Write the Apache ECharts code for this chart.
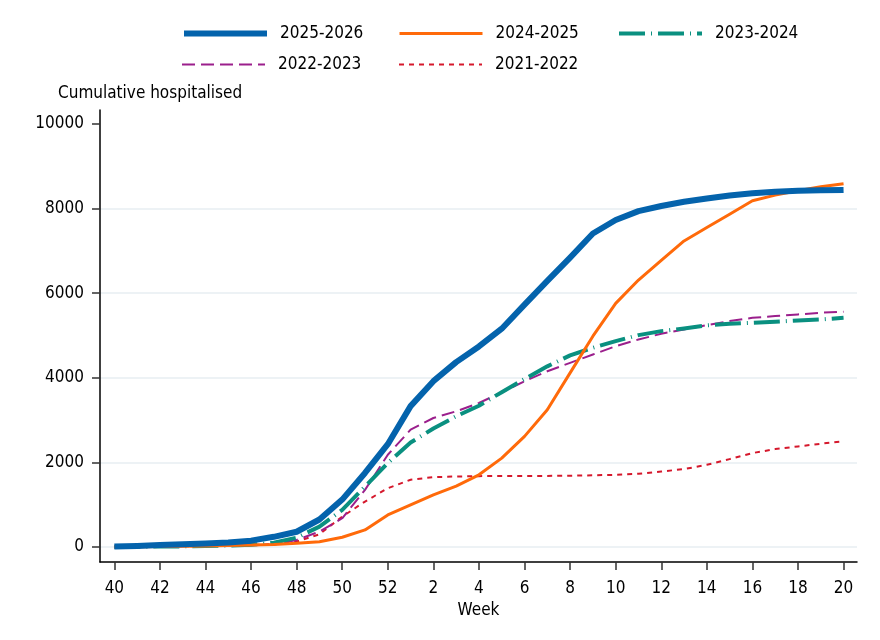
<!DOCTYPE html>
<html>
<head>
<meta charset="utf-8">
<script src="https://cdn.jsdelivr.net/npm/echarts@6/dist/echarts.min.js"></script>
<style>html,body{margin:0;padding:0;background:#fff}#c{width:880px;height:640px}</style>
</head>
<body>
<div id="c"></div>
<script>
var weeks = [40,41,42,43,44,45,46,47,48,49,50,51,52,1,2,3,4,5,6,7,8,9,10,11,12,13,14,15,16,17,18,19,20];
var xTickIdx = [0,2,4,6,8,10,12,14,16,18,20,22,24,26,28,30,32];
var yTicks = [0,2000,4000,6000,8000,10000];

var s2025 = [10,25,45,65,85,105,150,240,360,650,1120,1750,2430,3330,3920,4370,4740,5160,5730,6290,6840,7410,7730,7940,8060,8160,8240,8310,8360,8400,8420,8430,8440];
var s2024 = [0,5,10,15,25,35,45,60,87,126,230,403,758,995,1232,1440,1706,2101,2615,3246,4115,4983,5758,6311,6777,7235,7551,7867,8183,8318,8420,8515,8586];
var s2023 = [0,5,10,15,25,35,55,100,220,482,877,1430,1983,2470,2800,3090,3340,3660,3970,4270,4530,4710,4866,5008,5103,5166,5237,5276,5300,5324,5355,5379,5418];
var s2022 = [0,5,10,15,20,30,40,55,166,363,679,1350,2180,2773,3049,3207,3404,3657,3918,4155,4353,4550,4747,4905,5040,5142,5245,5340,5418,5458,5498,5537,5561];
var s2021 = [0,5,10,15,20,30,45,70,130,300,718,1074,1390,1588,1651,1667,1675,1680,1680,1680,1685,1695,1706,1730,1785,1840,1943,2077,2220,2314,2377,2441,2496];

var FONT = "'DejaVu Sans Condensed', 'Liberation Sans', sans-serif";

function pairs(arr){ return arr.map(function(v,i){ return [i, v]; }); }

var seriesDefs = [
  {name:'2025-2026', data:s2025, color:'#0463ac', width:6, type:'solid'},
  {name:'2024-2025', data:s2024, color:'#ff6a0a', width:3, type:'solid'},
  {name:'2023-2024', data:s2023, color:'#0a9080', width:4, type:[26,6,1,6]},
  {name:'2022-2023', data:s2022, color:'#9b1f8c', width:2, type:[13,6]},
  {name:'2021-2022', data:s2021, color:'#d5182c', width:2, type:[5,5]}
];

var legendPos = [
  {left:181, top:25}, {left:398, top:25}, {left:617, top:25},
  {left:181, top:56}, {left:398, top:56}
];

var chart = echarts.init(document.getElementById('c'), null, {renderer:'canvas'});
chart.setOption({
  animation:false,
  backgroundColor:'#fff',
  textStyle:{fontFamily:FONT},
  title:{
    text:'Cumulative hospitalised', left:58, top:85, padding:0,
    textStyle:{fontFamily:FONT, fontSize:17, fontWeight:'normal', color:'#000'}
  },
  legend: seriesDefs.map(function(s,i){
    return {
      data:[s.name], left:legendPos[i].left, top:legendPos[i].top, padding:0,
      itemWidth:83, itemHeight:14, selectedMode:false,
      itemStyle:{opacity:0},
      lineStyle:{width:s.width, type:s.type, color:s.color, cap:'butt'},
      textStyle:{fontFamily:FONT, fontSize:17, color:'#000', padding:[0,0,0,8]}
    };
  }),
  grid:{left:100, right:23, top:110, bottom:78, containLabel:false},
  xAxis:{
    type:'value', min:-0.63, max:32.59,
    name:'Week', nameLocation:'middle', nameGap:30,
    nameTextStyle:{fontFamily:FONT, fontSize:17, color:'#000'},
    axisLine:{show:true, onZero:false, lineStyle:{color:'#000', width:1.5}},
    axisTick:{show:true, length:8, customValues:xTickIdx, lineStyle:{color:'#333', width:1.5}},
    axisLabel:{customValues:xTickIdx, margin:18, fontFamily:FONT, fontSize:17, color:'#000',
      formatter:function(v){ return String(weeks[Math.round(v)]); }},
    splitLine:{show:false}
  },
  yAxis:{
    type:'value', min:-355, max:10330,
    axisLine:{show:true, onZero:false, lineStyle:{color:'#000', width:1.5}},
    axisTick:{show:true, length:8, customValues:yTicks, lineStyle:{color:'#333', width:1.5}},
    axisLabel:{customValues:yTicks, margin:16, fontFamily:FONT, fontSize:17, color:'#000',
      formatter:function(v){ return String(v); }},
    splitLine:{show:true, showMinLine:true, showMaxLine:false, lineStyle:{color:'#edf2f5', width:2}}
  },
  series: seriesDefs.map(function(s,i){
    return {
      name:s.name, type:'line', data:pairs(s.data), symbol:'none', showSymbol:false,
      smooth:false, z:10-i,
      lineStyle:{color:s.color, width:s.width, type:s.type, cap:'butt', join:'round'},
      itemStyle:{color:s.color}
    };
  })
});
</script>
</body>
</html>
